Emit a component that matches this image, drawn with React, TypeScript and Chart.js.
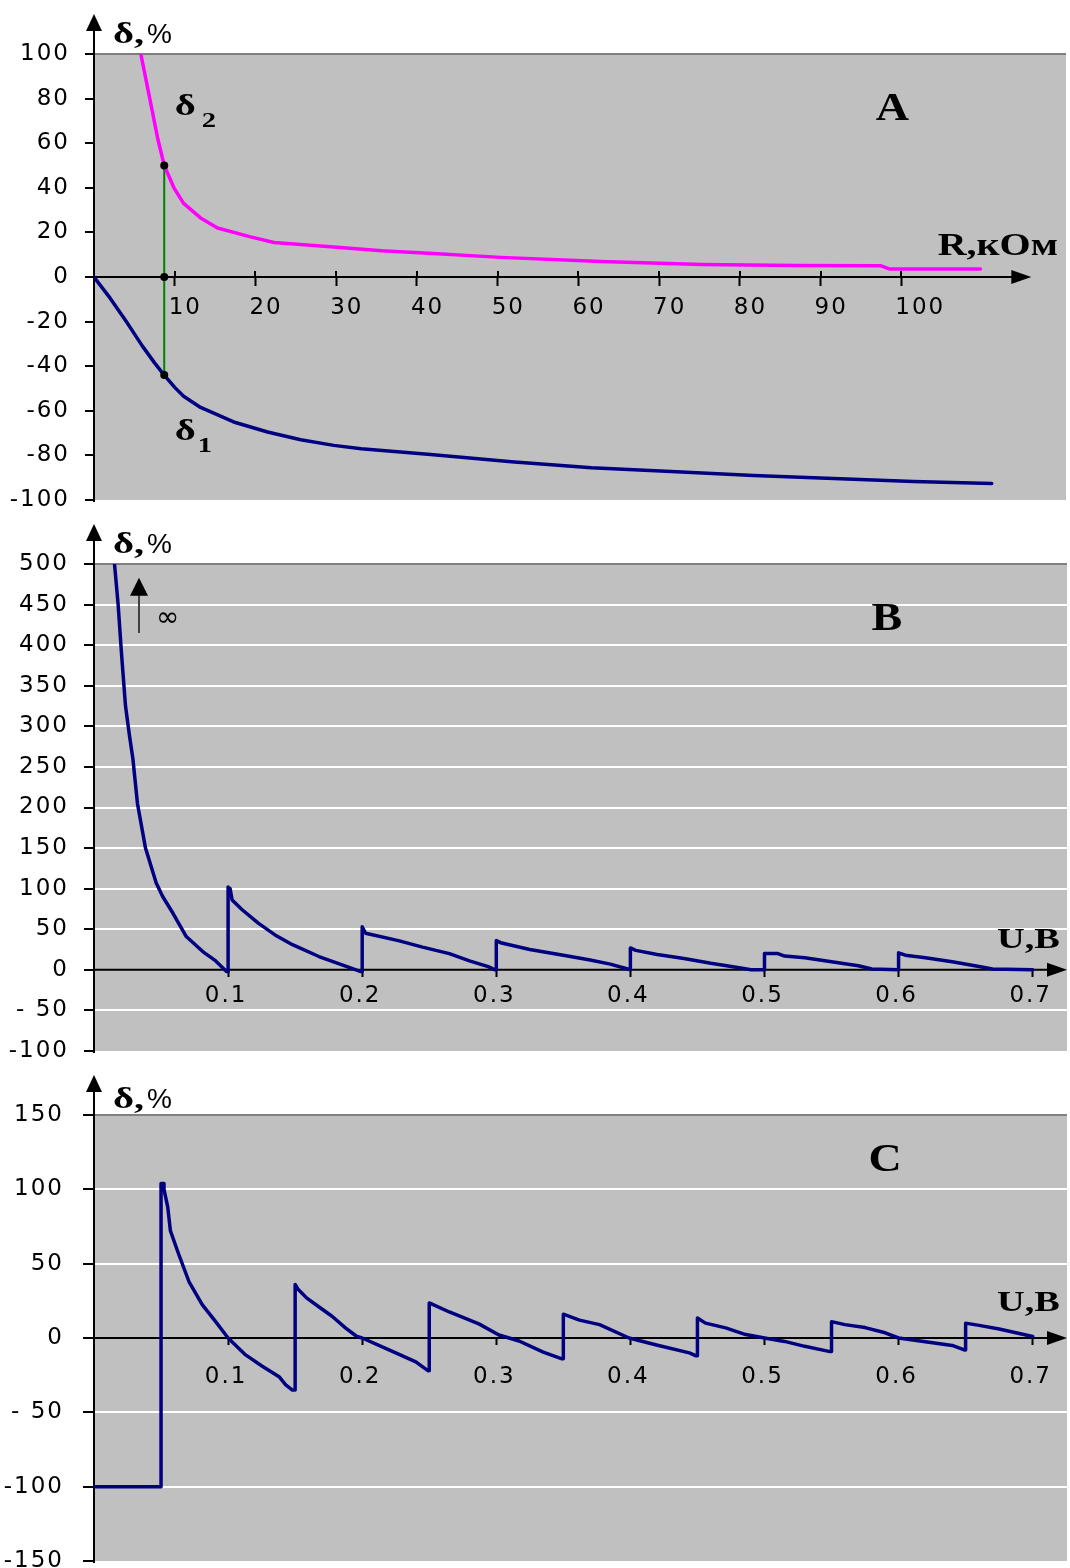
import React, { useEffect, useRef } from 'react';
import { Chart, registerables } from 'chart.js';

Chart.register(...registerables);

// ---------------- Panel A : δ vs R (kOhm) ----------------
const rDelta2 = [5.8, 6.8, 7.9, 8.7, 9.9, 11.1, 13.2, 15.3, 19.4, 22.3, 29.7, 35.6, 42, 50.4, 62.8, 75.3, 87, 97.5, 98.5, 109.8];
const delta2 = [100, 82, 62, 50, 40, 33, 26.5, 22, 18, 15.5, 13.5, 11.8, 10.5, 8.8, 7, 5.6, 5.2, 5, 3.6, 3.6];
const rDelta1 = [0, 2, 4, 6, 7.5, 8.7, 10, 11.1, 13.2, 17.3, 21.5, 25.6, 29.7, 33.1, 41.7, 51.7, 61.6, 71.5, 81.7, 91.6, 101.5, 111.2];
const delta1 = [0, -9.5, -20, -31, -38.5, -44, -49.5, -53.5, -58.5, -65, -69.5, -73, -75.5, -77, -79.6, -82.8, -85.5, -87.2, -89, -90.4, -91.7, -92.6];
const markerR = [8.7, 8.7, 8.7];
const markerDelta = [50, 0, -44];
const xTicksA = [10, 20, 30, 40, 50, 60, 70, 80, 90, 100];
const yTicksA = [-100, -80, -60, -40, -20, 0, 20, 40, 60, 80, 100];

// ---------------- Panel B : δ vs U (V) ----------------
const uB = [
  0.0153, 0.018, 0.0205, 0.0235, 0.0265, 0.029, 0.0324, 0.0384, 0.0464, 0.0513, 0.0588, 0.0688, 0.0811, 0.09, 0.0988,
  0.1, 0.1, 0.1015, 0.103, 0.1105, 0.1225, 0.135, 0.148, 0.1677, 0.185, 0.1985,
  0.2, 0.2, 0.2025, 0.227, 0.245, 0.265, 0.28, 0.294, 0.299,
  0.3, 0.3, 0.304, 0.325, 0.35, 0.37, 0.385, 0.398,
  0.4, 0.4, 0.404, 0.42, 0.44, 0.46, 0.48, 0.49, 0.5,
  0.5, 0.51, 0.515, 0.53, 0.55, 0.57, 0.58, 0.6,
  0.6, 0.605, 0.62, 0.64, 0.66, 0.67, 0.7,
];
const deltaB = [
  500, 450, 390, 325, 288, 260, 205, 150, 107, 90, 70, 41, 22.5, 12, -2,
  -2, 102, 100, 86, 74, 57.5, 43, 31, 16.4, 6, -2,
  -2, 53, 45, 36, 28, 20, 11, 4, 0,
  0, 36, 33, 25, 18, 12, 7, 1,
  0, 27, 24, 19, 14, 8, 3, 0, 0,
  20, 20, 17, 15, 10, 5, 1, 0,
  21, 18, 15, 10, 4, 1, 0,
];
const xTicksU = [0.1, 0.2, 0.3, 0.4, 0.5, 0.6, 0.7];
const yTicksB = [-100, -50, 0, 50, 100, 150, 200, 250, 300, 350, 400, 450, 500];

// ---------------- Panel C : δ vs U (V) ----------------
const uC = [
  0, 0.05, 0.05, 0.0515, 0.0522, 0.055, 0.057, 0.0633, 0.0708, 0.0807, 0.0907, 0.1, 0.1125, 0.1255, 0.138, 0.143, 0.148, 0.15,
  0.15, 0.152, 0.1585, 0.1676, 0.1775, 0.1875, 0.196, 0.2, 0.22, 0.24, 0.249,
  0.25, 0.25, 0.265, 0.287, 0.302, 0.317, 0.335, 0.349,
  0.35, 0.35, 0.362, 0.377, 0.399, 0.421, 0.444, 0.449,
  0.45, 0.45, 0.456, 0.471, 0.486, 0.5, 0.515, 0.53, 0.548,
  0.55, 0.55, 0.56, 0.575, 0.59, 0.6, 0.62, 0.64, 0.649,
  0.65, 0.65, 0.66, 0.675, 0.69, 0.7,
];
const deltaC = [
  -100, -100, 104, 104, 100, 88, 72, 56, 38, 22.5, 11, 0, -11, -19, -26, -31.5, -35, -35,
  36, 33, 27, 21, 14.6, 6.8, 1, 0, -8, -16, -22,
  -22, 23.6, 17.5, 9.5, 2, -2, -9.5, -14,
  -14, 16, 12, 9, 0, -5, -10, -12,
  -12, 13.5, 10, 6.8, 2.3, 0, -2.3, -5.6, -9,
  -9, 11, 9, 7, 3.5, 0, -2.5, -5, -8,
  -8, 10, 8.5, 6, 3, 1,
];
const yTicksC = [-150, -100, -50, 0, 50, 100, 150];

// ---------------- helpers ----------------
const zip = (xs: number[], ys: number[]) => xs.map((x, i) => ({ x, y: ys[i] }));
const TICK_FONT = { family: "'DejaVu Sans', sans-serif", size: 23 };
const SERIF = "'Liberation Serif', 'Times New Roman', serif";
const SANS = "'Liberation Sans', Arial, sans-serif";
const NAVY = '#000080';

function drawLabel(
  ctx: CanvasRenderingContext2D, s: string, x: number, y: number, font: string, sx: number,
  align: 'left' | 'center' = 'left', baseline: CanvasTextBaseline = 'alphabetic', color = '#000'
) {
  ctx.save();
  (ctx as any).letterSpacing = '0px';
  ctx.font = font;
  ctx.fillStyle = color;
  ctx.textAlign = 'left';
  ctx.textBaseline = baseline;
  const w = ctx.measureText(s).width * sx;
  const x0 = align === 'center' ? x - w / 2 : x;
  ctx.translate(x0, y);
  ctx.scale(sx, 1);
  ctx.fillText(s, 0, 0);
  ctx.restore();
}

type Spec = {
  top: number; height: number; padTop: number; padBottom: number;
  xMax: number; xTicks: number[]; xFmt: (v: number) => string; xAlign: string; xLabelOffset: number;
  xTickLen: number; xPad: number; arrowTip: number; ticksUp: boolean;
  yMin: number; yMax: number; yTicks: number[]; yFmt: (v: number) => string; yTickLen: number; yPad: number;
  whiteGrid: boolean; unitGap: number;
  datasets: any[];
  annotate: (chart: any) => void;
};

function buildConfig(p: Spec): any {
  const deco = {
    id: 'deco',
    beforeDraw(chart: any) {
      const { ctx, chartArea: a } = chart;
      ctx.save();
      ctx.fillStyle = '#C0C0C0';
      ctx.fillRect(a.left, a.top, a.right - a.left, a.bottom - a.top);
      ctx.restore();
      ctx.letterSpacing = '2px';
    },
    beforeDatasetsDraw(chart: any) {
      const { ctx, chartArea: a, scales } = chart;
      const xs = scales.x, ys = scales.y;
      const y0 = ys.getPixelForValue(0);
      const tip = xs.getPixelForValue(p.arrowTip);
      ctx.save();
      ctx.strokeStyle = '#000';
      ctx.fillStyle = '#000';
      ctx.lineWidth = 2;
      // x axis line + arrow
      ctx.beginPath();
      ctx.moveTo(a.left, y0);
      ctx.lineTo(tip - 10, y0);
      ctx.stroke();
      ctx.beginPath();
      ctx.moveTo(tip, y0);
      ctx.lineTo(tip - 20, y0 - 7);
      ctx.lineTo(tip - 20, y0 + 7);
      ctx.closePath();
      ctx.fill();
      if (p.ticksUp) {
        for (const v of p.xTicks) {
          const px = Math.round(xs.getPixelForValue(v));
          ctx.beginPath();
          ctx.moveTo(px, y0 - 6);
          ctx.lineTo(px, y0);
          ctx.stroke();
        }
      }
      // y axis extension + arrow
      const yx = a.left;
      ctx.beginPath();
      ctx.moveTo(yx, a.bottom + 2);
      ctx.lineTo(yx, a.top - 26);
      ctx.stroke();
      ctx.beginPath();
      ctx.moveTo(yx, a.top - 40);
      ctx.lineTo(yx - 8, a.top - 23);
      ctx.lineTo(yx + 8, a.top - 23);
      ctx.closePath();
      ctx.fill();
      ctx.restore();
    },
    afterDraw(chart: any) {
      const { ctx, chartArea: a } = chart;
      drawLabel(ctx, 'δ,', a.left + 19, a.top - p.unitGap, `bold 30px ${SERIF}`, 1.35);
      drawLabel(ctx, '%', a.left + 53, a.top - p.unitGap, `28px ${SANS}`, 1.0);
      p.annotate(chart);
    },
  };

  const gridColor = (c: any) => {
    const v = c.tick ? c.tick.value : NaN;
    if (v === p.yMax) return '#808080';
    if (!p.whiteGrid || v === 0 || v === p.yMin) return 'rgba(0,0,0,0)';
    return '#FFFFFF';
  };

  return {
    type: 'scatter',
    data: { datasets: p.datasets },
    plugins: [deco],
    options: {
      responsive: false,
      animation: false,
      devicePixelRatio: 1,
      events: [],
      layout: { padding: { left: 0, right: 3, top: p.padTop, bottom: p.padBottom } },
      plugins: { legend: { display: false }, tooltip: { enabled: false } },
      scales: {
        x: {
          type: 'linear',
          min: 0,
          max: p.xMax,
          position: { y: 0 },
          afterBuildTicks: (s: any) => { s.ticks = p.xTicks.map((v) => ({ value: v })); },
          border: { display: false },
          grid: {
            display: true, drawOnChartArea: false, drawTicks: true,
            tickLength: p.xTickLen, tickColor: '#000', tickWidth: 2, color: 'rgba(0,0,0,0)',
          },
          ticks: {
            autoSkip: false, maxRotation: 0, minRotation: 0, font: TICK_FONT, color: '#000',
            padding: p.xPad, align: p.xAlign, labelOffset: p.xLabelOffset,
            callback: (v: number) => p.xFmt(v),
          },
        },
        y: {
          type: 'linear',
          min: p.yMin,
          max: p.yMax,
          position: 'left',
          afterBuildTicks: (s: any) => { s.ticks = p.yTicks.map((v) => ({ value: v })); },
          afterFit: (s: any) => { s.width = 94; s.paddingTop = 0; s.paddingBottom = 0; },
          border: { display: true, color: '#000', width: 2 },
          grid: {
            drawOnChartArea: true, drawTicks: true, tickLength: p.yTickLen,
            tickColor: '#000', tickWidth: 2, color: gridColor, lineWidth: 2,
          },
          ticks: { font: TICK_FONT, color: '#000', padding: p.yPad, callback: (v: number) => p.yFmt(v) },
        },
      },
    },
  };
}

const lineDs = (data: any[], color: string, width: number, order: number) => ({
  data, showLine: true, borderColor: color, borderWidth: width, pointRadius: 0, tension: 0, fill: false, order,
  borderJoinStyle: 'round', borderCapStyle: 'round',
});

const fmtY = (v: number) => (v === -50 ? '- 50' : String(v));
const fmtU = (v: number) => v.toFixed(1);

const specA: Spec = {
  top: 0, height: 520, padTop: 54, padBottom: 20,
  xMax: 120.4, xTicks: xTicksA, xFmt: (v) => String(v), xAlign: 'start', xLabelOffset: -6,
  xTickLen: 9, xPad: 8, arrowTip: 116.1, ticksUp: true,
  yMin: -100, yMax: 100, yTicks: yTicksA, yFmt: (v) => String(v), yTickLen: 9, yPad: 15,
  whiteGrid: false, unitGap: 11,
  datasets: [
    { data: zip(markerR, markerDelta), showLine: false, pointRadius: 4, pointBackgroundColor: '#000', pointBorderWidth: 0, order: 0 },
    lineDs(zip(rDelta2, delta2), '#FF00FF', 3.5, 1),
    lineDs(zip(rDelta1, delta1), NAVY, 3.5, 1),
    lineDs(zip([markerR[0], markerR[2]], [markerDelta[0], markerDelta[2]]), '#008000', 2, 2),
  ],
  annotate(chart: any) {
    const { ctx, scales } = chart;
    const X = (v: number) => scales.x.getPixelForValue(v);
    const Y = (v: number) => scales.y.getPixelForValue(v);
    drawLabel(ctx, 'A', X(98.9), Y(70.4), `bold 40px ${SERIF}`, 1.15, 'center');
    drawLabel(ctx, 'R,кОм', X(104.5), Y(9.9), `bold 32px ${SERIF}`, 1.25);
    drawLabel(ctx, 'δ', X(10), Y(72.6), `bold 30px ${SERIF}`, 1.35);
    drawLabel(ctx, '2', X(10) + 27, Y(72.6) + 12, `bold 22px ${SERIF}`, 1.3);
    drawLabel(ctx, 'δ', X(10), Y(-73.1), `bold 30px ${SERIF}`, 1.35);
    drawLabel(ctx, '1', X(10) + 23, Y(-73.1) + 12, `bold 22px ${SERIF}`, 1.3);
  },
};

const specB: Spec = {
  top: 505, height: 560, padTop: 59, padBottom: 14,
  xMax: 0.7256, xTicks: xTicksU, xFmt: fmtU, xAlign: 'center', xLabelOffset: -2,
  xTickLen: 7, xPad: 5, arrowTip: 0.7256, ticksUp: false,
  yMin: -100, yMax: 500, yTicks: yTicksB, yFmt: fmtY, yTickLen: 10, yPad: 15,
  whiteGrid: true, unitGap: 11,
  datasets: [lineDs(zip(uB, deltaB), NAVY, 3.5, 1)],
  annotate(chart: any) {
    const { ctx, scales } = chart;
    const X = (v: number) => scales.x.getPixelForValue(v);
    const Y = (v: number) => scales.y.getPixelForValue(v);
    drawLabel(ctx, 'B', X(0.5913), Y(418.7), `bold 40px ${SERIF}`, 1.15, 'center');
    drawLabel(ctx, 'U,В', X(0.6734), Y(27), `bold 30px ${SERIF}`, 1.28);
    // "infinity" arrow
    const ax = Math.round(X(0.0336));
    ctx.save();
    ctx.strokeStyle = '#404040';
    ctx.lineWidth = 2;
    ctx.beginPath();
    ctx.moveTo(ax, Y(415));
    ctx.lineTo(ax, Y(463));
    ctx.stroke();
    ctx.fillStyle = '#000';
    ctx.beginPath();
    ctx.moveTo(ax, Y(483));
    ctx.lineTo(ax - 9, Y(461));
    ctx.lineTo(ax + 9, Y(461));
    ctx.closePath();
    ctx.fill();
    ctx.restore();
    drawLabel(ctx, '∞', X(0.055), Y(432), `28px 'DejaVu Sans', sans-serif`, 1.0, 'center', 'middle');
  },
};

const specC: Spec = {
  top: 1055, height: 513, padTop: 60, padBottom: 7,
  xMax: 0.7256, xTicks: xTicksU, xFmt: fmtU, xAlign: 'center', xLabelOffset: -2,
  xTickLen: 7, xPad: 18, arrowTip: 0.7256, ticksUp: false,
  yMin: -150, yMax: 150, yTicks: yTicksC, yFmt: fmtY, yTickLen: 11, yPad: 19,
  whiteGrid: true, unitGap: 7,
  datasets: [lineDs(zip(uC, deltaC), NAVY, 3.5, 1)],
  annotate(chart: any) {
    const { ctx, scales } = chart;
    const X = (v: number) => scales.x.getPixelForValue(v);
    const Y = (v: number) => scales.y.getPixelForValue(v);
    drawLabel(ctx, 'C', X(0.59), Y(112.3), `bold 40px ${SERIF}`, 1.15, 'center');
    drawLabel(ctx, 'U,В', X(0.6734), Y(18.2), `bold 30px ${SERIF}`, 1.28);
  },
};

function Panel({ spec }: { spec: Spec }) {
  const ref = useRef<HTMLCanvasElement>(null);
  useEffect(() => {
    if (!ref.current) return;
    const chart = new Chart(ref.current, buildConfig(spec));
    return () => chart.destroy();
  }, [spec]);
  return (
    <canvas
      ref={ref}
      width={1070}
      height={spec.height}
      style={{ position: 'absolute', left: 0, top: spec.top, width: 1070, height: spec.height, display: 'block' }}
    />
  );
}

export default function App() {
  return (
    <div style={{ position: 'absolute', left: 0, top: 0, width: 1070, height: 1568, background: '#FFFFFF', overflow: 'hidden' }}>
      <Panel spec={specA} />
      <Panel spec={specB} />
      <Panel spec={specC} />
    </div>
  );
}
